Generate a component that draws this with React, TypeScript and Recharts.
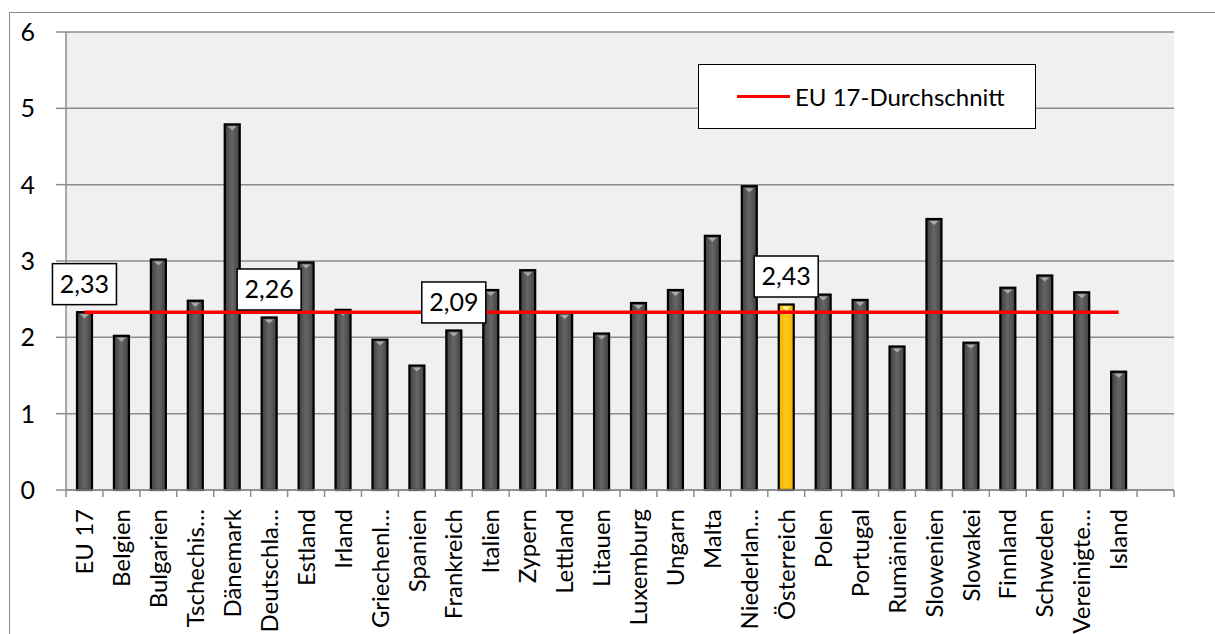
import React from 'react';
import {
  Bar,
  CartesianGrid,
  ComposedChart,
  Legend,
  Line,
  Scatter,
  XAxis,
  YAxis,
} from 'recharts';

const categories = [
  'EU 17', 'Belgien', 'Bulgarien', 'Tschechis…', 'Dänemark', 'Deutschla…',
  'Estland', 'Irland', 'Griechenl…', 'Spanien', 'Frankreich', 'Italien',
  'Zypern', 'Lettland', 'Litauen', 'Luxemburg', 'Ungarn', 'Malta',
  'Niederlan…', 'Österreich', 'Polen', 'Portugal', 'Rumänien', 'Slowenien',
  'Slowakei', 'Finnland', 'Schweden', 'Vereinigte…', 'Island', '',
];

const values: (number | null)[] = [
  2.33, 2.02, 3.02, 2.48, 4.79, 2.26, 2.98, 2.36, 1.97, 1.63, 2.09, 2.62,
  2.88, 2.32, 2.05, 2.45, 2.62, 3.33, 3.98, 2.43, 2.56, 2.49, 1.88, 3.55,
  1.93, 2.65, 2.81, 2.59, 1.55, null,
];

const euAverage = 2.33;
const labelled = ['EU 17', 'Deutschla…', 'Frankreich', 'Österreich'];
const highlighted = 'Österreich';
const yTicks = [0, 1, 2, 3, 4, 5, 6];

const FONT = 'Lato, "Noto Sans", sans-serif';
const GRID = '#8c8c8c';
const W = 1215;
const H = 634;
const MARGIN = { top: 32, right: 41, bottom: 0, left: 10 };
const Y_AXIS_W = 56;
const X_AXIS_H = 144;
const BAND = (W - MARGIN.left - Y_AXIS_W - MARGIN.right) / categories.length;

const data = categories.map((name, i) => ({
  name,
  value: values[i],
  avg: values[i] == null ? null : euAverage,
  mark: labelled.includes(name) ? values[i] : null,
}));

const fmt = (v: number) => v.toFixed(2).replace('.', ',');

const BarShape = (props: any) => {
  const { x, y, width, height, payload } = props;
  if (!height || height <= 0) return null;
  const gold = payload.name === highlighted;
  return (
    <g>
      <rect
        x={x}
        y={y}
        width={width}
        height={height}
        fill={gold ? 'url(#barGold)' : 'url(#barGray)'}
        stroke="#000"
        strokeWidth={2.2}
      />
      <path
        d={`M${x + 3},${y + 2} L${x + width - 3},${y + 2} L${x + width / 2},${y + 6} Z`}
        fill={gold ? '#fff3a6' : '#a8a8a8'}
      />
    </g>
  );
};

// value boxes sitting above the bars they describe
const ValueBox = (props: any) => {
  const { cx, cy, payload } = props;
  if (payload.mark == null || cx == null || cy == null) return null;
  const bw = 64;
  const bh = 41;
  const top = cy - 28 - bh / 2;
  return (
    <g>
      <rect
        x={cx - bw / 2}
        y={top}
        width={bw}
        height={bh}
        fill="#fff"
        stroke="#000"
        strokeWidth={1.5}
      />
      <text
        x={cx}
        y={top + bh / 2}
        dy="0.35em"
        textAnchor="middle"
        fontFamily={FONT}
        fontSize={25}
        fill="#000"
      >
        {fmt(payload.mark)}
      </text>
    </g>
  );
};

const XTick = (props: any) => {
  const { x, y, payload, index } = props;
  return (
    <g>
      <line x1={x - BAND / 2} x2={x - BAND / 2} y1={y} y2={y + 7} stroke={GRID} strokeWidth={1.5} />
      {index === categories.length - 1 && (
        <line x1={x + BAND / 2} x2={x + BAND / 2} y1={y} y2={y + 7} stroke={GRID} strokeWidth={1.5} />
      )}
      <text
        transform={`translate(${x},${y + 19}) rotate(-90)`}
        textAnchor="end"
        dy="0.36em"
        fontFamily={FONT}
        fontSize={24}
        fill="#000"
      >
        {payload.value}
      </text>
    </g>
  );
};

const LegendBox: React.FC = () => (
  <div
    style={{
      width: 338,
      height: 65,
      boxSizing: 'border-box',
      border: '1.5px solid #000',
      background: '#fff',
      display: 'flex',
      alignItems: 'center',
      fontFamily: FONT,
      fontSize: 24,
      color: '#000',
    }}
  >
    <span
      style={{
        display: 'inline-block',
        width: 53,
        height: 3.5,
        background: '#ff0000',
        marginLeft: 38,
        marginRight: 5,
      }}
    />
    <span>EU 17-Durchschnitt</span>
  </div>
);

const App: React.FC = () => (
  <div
    style={{
      position: 'absolute',
      left: 0,
      top: 0,
      width: W,
      height: H,
      background: '#fff',
      fontFamily: FONT,
    }}
  >
    <div
      style={{
        position: 'absolute',
        left: 9,
        top: 12,
        width: W,
        height: H,
        borderLeft: '1.5px solid #8a8a8a',
        borderTop: '1.5px solid #8a8a8a',
      }}
    />
    <div style={{ position: 'absolute', left: 0, top: 0 }}>
      <ComposedChart width={W} height={H} data={data} margin={MARGIN}>
        <defs>
          <linearGradient id="barGray" x1="0" y1="0" x2="1" y2="0">
            <stop offset="0%" stopColor="#404040" />
            <stop offset="50%" stopColor="#666666" />
            <stop offset="100%" stopColor="#404040" />
          </linearGradient>
          <linearGradient id="barGold" x1="0" y1="0" x2="1" y2="0">
            <stop offset="0%" stopColor="#f0b400" />
            <stop offset="50%" stopColor="#ffc81a" />
            <stop offset="100%" stopColor="#f0b400" />
          </linearGradient>
        </defs>
        <CartesianGrid
          vertical={false}
          stroke={GRID}
          strokeWidth={1.5}
          fill="#f0f0f0"
        />
        <XAxis
          dataKey="name"
          interval={0}
          height={X_AXIS_H}
          tickSize={0}
          tickMargin={0}
          tickLine={false}
          axisLine={{ stroke: GRID, strokeWidth: 1.5 }}
          tick={<XTick />}
        />
        <YAxis
          width={Y_AXIS_W}
          domain={[0, 6]}
          ticks={yTicks}
          tickSize={10}
          tickMargin={21}
          interval={0}
          axisLine={{ stroke: GRID, strokeWidth: 1.5 }}
          tickLine={{ stroke: GRID, strokeWidth: 1.5 }}
          tick={{ fill: '#000', fontSize: 25, fontFamily: FONT }}
        />
        <Legend
          layout="vertical"
          align="center"
          verticalAlign="middle"
          content={<LegendBox />}
          wrapperStyle={{ left: 698, top: 64, width: 338, height: 65 }}
        />
        <Bar
          dataKey="value"
          barSize={15}
          shape={<BarShape />}
          isAnimationActive={false}
        />
        <Line
          dataKey="avg"
          type="linear"
          stroke="#ff0000"
          strokeWidth={3.5}
          dot={false}
          activeDot={false}
          isAnimationActive={false}
        />
        <Scatter dataKey="mark" shape={<ValueBox />} isAnimationActive={false} />
      </ComposedChart>
    </div>
  </div>
);

export default App;
